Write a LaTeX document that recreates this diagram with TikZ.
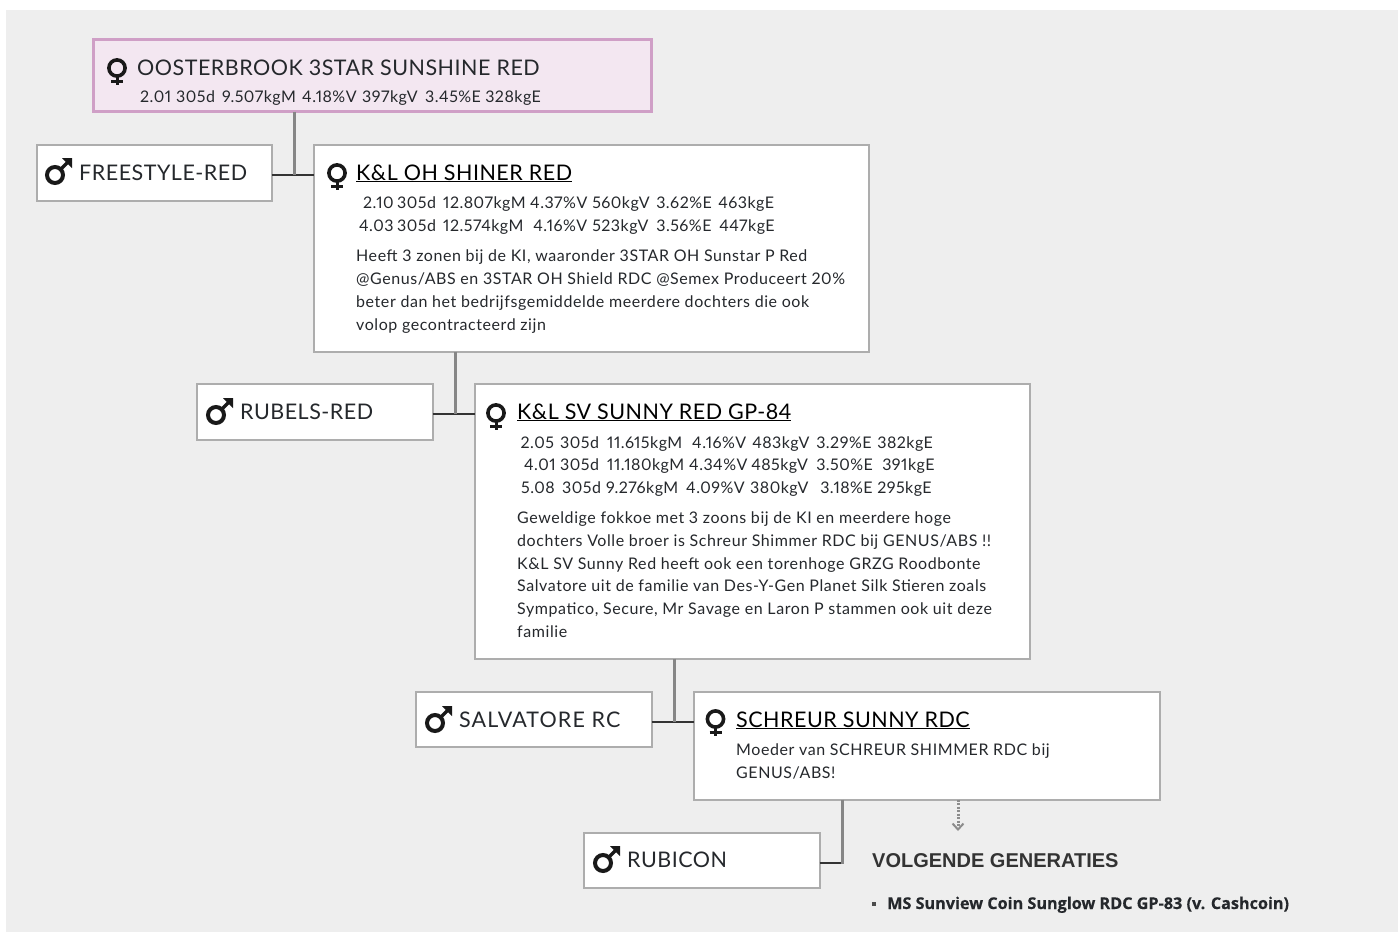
\documentclass[tikz,border=0pt]{standalone}
\usepackage{fontspec}
\setmainfont{Lato}
\newfontfamily\headf{Liberation Sans}
\newfontfamily\namef[LetterSpace=2.3]{Lato}
\newfontfamily\smallf[LetterSpace=3.6,Numbers=Proportional]{Lato}
\newfontfamily\statf[LetterSpace=3,Numbers=Proportional]{Lato}
\newfontfamily\boldf[BoldFeatures={FakeBold=0.4}]{Open Sans}
\usetikzlibrary{arrows.meta}
\definecolor{ink}{HTML}{25282C}
\definecolor{bgc}{HTML}{EEEEEE}
\definecolor{bord}{HTML}{ADADAD}
\definecolor{ccp}{HTML}{CF9FC6}
\definecolor{ccf}{HTML}{F3E7F1}
\newcommand{\stc}[2]{\makebox[#1pt][l]{#2}}
\tikzset{
  x=1pt,y=-1pt,
  box/.style={draw=bord,fill=white,line width=2pt,anchor=north west,inner sep=0pt,outer sep=0pt},
  rootbox/.style={box,draw=ccp,fill=ccf,line width=3pt},
  ntext/.style={anchor=base west,inner sep=0pt,text=ink,font=\namef\fontsize{21.5}{21.5}\selectfont},
  utext/.style={anchor=base west,inner sep=0pt,text=black,font=\namef\fontsize{21.5}{21.5}\selectfont},
  small/.style={anchor=base west,inner sep=0pt,text=ink,font=\smallf\fontsize{16}{16}\selectfont},
  stat/.style={anchor=base west,inner sep=0pt,text=ink,font=\statf\fontsize{16}{16}\selectfont},
  trunk/.style={draw=gray!95,line width=3pt},
  tie/.style={draw=black!80,line width=2pt},
  sym/.style={draw=black!90,line cap=butt},
  fem/.pic={\draw[sym,line width=3.6pt] (0,-4) circle[radius=8.1];
    \draw[sym,line width=3pt] (0,4) -- (0,13) (-6,9.5) -- (6,9.5);},
  mal/.pic={\draw[sym,line width=4pt] (-2,0) circle[radius=8];
    \draw[sym,line width=3.4pt] (3.5,-5.5) -- (13,-15);
    \fill[black!90] (5,-17) -- (15,-17) -- (15,-7) -- cycle;},
}
\begin{document}
\begin{tikzpicture}
\useasboundingbox (0,0) rectangle (1398,932);
\fill[white] (0,0) rectangle (1398,932);
\fill[bgc] (6,10) rectangle (1398,932);

\node[rootbox,minimum width=557.5pt,minimum height=72pt] (root) at (93.5,39.5) {};
\node[box,minimum width=235.2pt,minimum height=55.7pt] (fs) at (36.5,145) {};
\node[box,minimum width=555.2pt,minimum height=206.7pt] (kl) at (313.5,145) {};
\node[box,minimum width=236.2pt,minimum height=55.7pt] (ru) at (196.5,384) {};
\node[box,minimum width=555.2pt,minimum height=274.7pt] (sv) at (474.5,384) {};
\node[box,minimum width=236.2pt,minimum height=54.7pt] (sa) at (415.5,692) {};
\node[box,minimum width=466.2pt,minimum height=107.7pt] (sc) at (693.5,692) {};
\node[box,minimum width=236.2pt,minimum height=54.7pt] (rb) at (583.5,833) {};

\coordinate (j1) at (294,175);
\coordinate (j2) at (455,414);
\coordinate (j3) at (674,721.5);
\coordinate (j4) at (842,863);
\coordinate (gen) at (958,831);

\draw[tie] (fs.east |- j1) -- (kl.west |- j1);
\draw[trunk] (root.south -| j1) -- (j1);
\draw[tie] (ru.east |- j2) -- (sv.west |- j2);
\draw[trunk] (kl.south -| j2) -- (j2);
\draw[tie] (sa.east |- j3) -- (sc.west |- j3);
\draw[trunk] (sv.south -| j3) -- (j3);
\draw[tie] (rb.east |- j4) -- (j4);
\draw[trunk] (sc.south -| j4) -- ([yshift=-1pt]j4);
\draw[draw=gray!90,line width=3pt,dash pattern=on 2pt off 1.5pt,-{Straight Barb[length=6pt,width=11pt,line width=2pt]}] (sc.south -| gen) -- (gen);

\pic at (117,72) {fem};
\pic at (337,177) {fem};
\pic at (496,417) {fem};
\pic at (715.5,723) {fem};
\pic at (57,175) {mal};
\pic at (218,415) {mal};
\pic at (437,723) {mal};
\pic at (605,863) {mal};

\node[ntext] (t0) at (137,75) {OOSTERBROOK 3STAR SUNSHINE RED};
\node[stat] (t0a) at (140,102) {\stc{36}{2.01}\stc{46}{305d}\stc{80}{9.507kgM}\stc{60}{4.18\%V}\stc{63}{397kgV}\stc{60}{3.45\%E}328kgE};

\node[ntext] (t1) at (79,180) {FREESTYLE-RED};
\node[utext] (t2) at (356,180) {\underline{K\&L OH SHINER RED}};
\node[stat] (t2a) at (363,208) {\stc{34}{2.10}\stc{46}{305d}\stc{87}{12.807kgM}\stc{62}{4.37\%V}\stc{64}{560kgV}\stc{62}{3.62\%E}463kgE};
\node[stat] (t2b) at (359,231) {\stc{38}{4.03}\stc{46}{305d}\stc{90}{12.574kgM}\stc{59}{4.16\%V}\stc{64}{523kgV}\stc{63}{3.56\%E}447kgE};
\node[small] (t2c) at (356,261) {Heeft 3 zonen bij de KI, waaronder 3STAR OH Sunstar P Red};
\node[small] (t2d) at (356,284) {@Genus/ABS en 3STAR OH Shield RDC @Semex Produceert 20\%};
\node[small] (t2e) at (356,307) {beter dan het bedrijfsgemiddelde meerdere dochters die ook};
\node[small] (t2f) at (356,330) {volop gecontracteerd zijn};

\node[ntext] (t3) at (240,419) {RUBELS-RED};
\node[utext] (t4) at (517,419) {\underline{K\&L SV SUNNY RED GP-84}};
\node[stat] (t4a) at (520.5,448) {\stc{39.5}{2.05}\stc{47}{305d}\stc{85}{11.615kgM}\stc{60}{4.16\%V}\stc{64}{483kgV}\stc{61}{3.29\%E}382kgE};
\node[stat] (t4b) at (524,470) {\stc{36}{4.01}\stc{47}{305d}\stc{82}{11.180kgM}\stc{62}{4.34\%V}\stc{65}{485kgV}\stc{66}{3.50\%E}391kgE};
\node[stat] (t4c) at (521,493) {\stc{41}{5.08}\stc{44}{305d}\stc{80}{9.276kgM}\stc{64}{4.09\%V}\stc{70}{380kgV}\stc{57}{3.18\%E}295kgE};
\node[small] (t4d) at (517,523) {Geweldige fokkoe met 3 zoons bij de KI en meerdere hoge};
\node[small] (t4e) at (517,546) {dochters Volle broer is Schreur Shimmer RDC bij GENUS/ABS !!};
\node[small] (t4f) at (517,569) {K\&L SV Sunny Red heeft ook een torenhoge GRZG Roodbonte};
\node[small] (t4g) at (517,591) {Salvatore uit de familie van Des-Y-Gen Planet Silk Stieren zoals};
\node[small] (t4h) at (517,614) {Sympatico, Secure, Mr Savage en Laron P stammen ook uit deze};
\node[small] (t4i) at (517,637) {familie};

\node[ntext] (t5) at (459,727) {\addfontfeature{LetterSpace=5.3}SALVATORE RC};
\node[utext] (t6) at (736,727) {\underline{SCHREUR SUNNY RDC}};
\node[small] (t6a) at (736,755) {Moeder van SCHREUR SHIMMER RDC bij};
\node[small] (t6b) at (736,778) {GENUS/ABS!};

\node[ntext] (t7) at (627,867) {RUBICON};
\node[anchor=base west,inner sep=0pt,text=black!80,font=\headf\bfseries\fontsize{20}{20}\selectfont] (t8) at (872,867) {VOLGENDE GENERATIES};
\fill[black!70] (872,902) rectangle (876,906);
\node[anchor=base west,inner sep=0pt,text=ink,font=\boldf\bfseries\fontsize{16.2}{16.2}\selectfont] (t9) at (887,909) {MS Sunview Coin Sunglow RDC GP-83 (v. Cashcoin)};
\end{tikzpicture}
\end{document}
